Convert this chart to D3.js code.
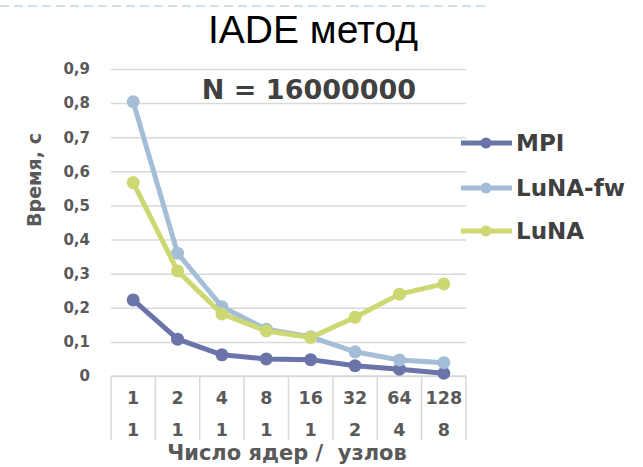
<!DOCTYPE html>
<html>
<head>
<meta charset="utf-8">
<script src="https://cdn.jsdelivr.net/npm/d3@7"></script>
<style>
  body { margin: 0; background: #fff; }
  svg { display: block; }
  text { font-family: "DejaVu Sans", Verdana, sans-serif; font-weight: bold; }
</style>
</head>
<body>
<div id="chart_div"></div>
<script>
// data
var cores = ["1", "2", "4", "8", "16", "32", "64", "128"];
var nodes = ["1", "1", "1", "1", "1", "2", "4", "8"];
var mpi = [0.223, 0.108, 0.062, 0.05, 0.048, 0.03, 0.02, 0.008];
var lunaFw = [0.804, 0.36, 0.203, 0.137, 0.115, 0.071, 0.047, 0.039];
var luna = [0.567, 0.308, 0.182, 0.132, 0.113, 0.172, 0.24, 0.27];
var yTicks = [0, 0.1, 0.2, 0.3, 0.4, 0.5, 0.6, 0.7, 0.8, 0.9];

var series = [
  {name: "MPI", values: mpi, color: "#6b74a8"},
  {name: "LuNA-fw", values: lunaFw, color: "#a5bed8"},
  {name: "LuNA", values: luna, color: "#cdd872"}
];

var W = 643, H = 467;
var margin = {top: 69, left: 111, right: W - 466, bottom: H - 376};
var width = W - margin.left - margin.right,
    height = H - margin.top - margin.bottom;

var svg = d3.select("#chart_div").append("svg")
    .attr("width", W)
    .attr("height", H);

// dashed rule across the top
svg.append("line")
    .attr("x1", 0).attr("x2", 486)
    .attr("y1", 6).attr("y2", 6)
    .attr("stroke", "#9dc0e0")
    .attr("stroke-width", 1.2)
    .attr("stroke-dasharray", "9,5");

svg.append("text")
    .attr("x", 313).attr("y", 43)
    .attr("text-anchor", "middle")
    .style("font-family", "'Liberation Sans', Arial, sans-serif")
    .style("font-weight", "normal")
    .style("font-size", "39px")
    .attr("fill", "#000")
    .text("IADE метод");

var g = svg.append("g")
    .attr("transform", "translate(" + margin.left + "," + margin.top + ")");

var x = d3.scaleBand().domain(cores).range([0, width]);
var y = d3.scaleLinear().domain([0, 0.9]).range([height, 0]);

// gridlines
g.append("g")
    .call(d3.axisLeft(y).tickValues(yTicks).tickSize(-width).tickFormat(""))
    .call(function(a) {
      a.select(".domain").remove();
      a.selectAll("line").attr("stroke", "#d9d9d9").attr("stroke-width", 1.5);
    });

// y tick labels
g.append("g")
    .call(d3.axisLeft(y).tickValues(yTicks).tickSize(0).tickPadding(21)
      .tickFormat(function(d) { return d === 0 ? "0" : d3.format(".1f")(d).replace(".", ","); }))
    .call(function(a) {
      a.select(".domain").remove();
      a.selectAll("text")
        .style("font-family", "'DejaVu Sans', Verdana, sans-serif")
        .style("font-weight", "bold")
        .style("font-size", "15px")
        .attr("fill", "#595959");
    });

// category table under the axis
var tbl = g.append("g").attr("transform", "translate(0," + height + ")");
var edges = cores.map(function(c) { return x(c); }).concat([width]);
tbl.selectAll("line.sep")
    .data(edges)
    .enter().append("line")
    .attr("class", "sep")
    .attr("x1", function(d) { return d; })
    .attr("x2", function(d) { return d; })
    .attr("y1", 0).attr("y2", 64)
    .attr("stroke", "#d9d9d9")
    .attr("stroke-width", 1.5);
tbl.append("line")
    .attr("x1", 0).attr("x2", width)
    .attr("y1", 0).attr("y2", 0)
    .attr("stroke", "#d9d9d9").attr("stroke-width", 1.5);

tbl.selectAll("text.cores")
    .data(cores)
    .enter().append("text")
    .attr("class", "cores")
    .attr("x", function(d) { return x(d) + x.bandwidth() / 2; })
    .attr("y", 28)
    .attr("text-anchor", "middle")
    .style("font-size", "17.5px")
    .attr("fill", "#595959")
    .text(function(d) { return d; });

tbl.selectAll("text.nodes")
    .data(nodes)
    .enter().append("text")
    .attr("class", "nodes")
    .attr("x", function(d, i) { return x(cores[i]) + x.bandwidth() / 2; })
    .attr("y", 60)
    .attr("text-anchor", "middle")
    .style("font-size", "17.5px")
    .attr("fill", "#595959")
    .text(function(d) { return d; });

// axis titles
svg.append("text")
    .attr("x", 287).attr("y", 460)
    .attr("text-anchor", "middle")
    .style("font-size", "21px")
    .attr("fill", "#595959")
    .attr("xml:space", "preserve")
    .style("white-space", "pre")
    .text("Число ядер /  узлов");

svg.append("text")
    .attr("transform", "translate(41,180) rotate(-90)")
    .attr("text-anchor", "middle")
    .style("font-size", "19px")
    .attr("fill", "#595959")
    .text("Время, с");

// chart subtitle
g.append("text")
    .attr("x", 198).attr("y", 30)
    .attr("text-anchor", "middle")
    .style("font-size", "27px")
    .attr("fill", "#404040")
    .text("N = 16000000");

// lines and markers
var line = d3.line()
    .x(function(d, i) { return x(cores[i]) + x.bandwidth() / 2; })
    .y(function(d) { return y(d); });

series.forEach(function(s) {
  g.append("path")
      .datum(s.values)
      .attr("fill", "none")
      .attr("stroke", s.color)
      .attr("stroke-width", 5)
      .attr("stroke-linejoin", "round")
      .attr("d", line);
  g.selectAll(null)
      .data(s.values)
      .enter().append("circle")
      .attr("cx", function(d, i) { return x(cores[i]) + x.bandwidth() / 2; })
      .attr("cy", function(d) { return y(d); })
      .attr("r", 6.5)
      .attr("fill", s.color);
});

// legend
var legY = [143, 188, 231];
var leg = svg.selectAll("g.leg")
    .data(series)
    .enter().append("g")
    .attr("class", "leg")
    .attr("transform", function(d, i) { return "translate(461," + legY[i] + ")"; });
leg.append("line")
    .attr("x1", 0).attr("x2", 51)
    .attr("stroke", function(d) { return d.color; })
    .attr("stroke-width", 5);
leg.append("circle")
    .attr("cx", 25).attr("r", 5.5)
    .attr("fill", function(d) { return d.color; });
leg.append("text")
    .attr("x", 55).attr("y", 8)
    .style("font-size", "23px")
    .attr("fill", "#404040")
    .text(function(d) { return d.name; });
</script>
</body>
</html>
